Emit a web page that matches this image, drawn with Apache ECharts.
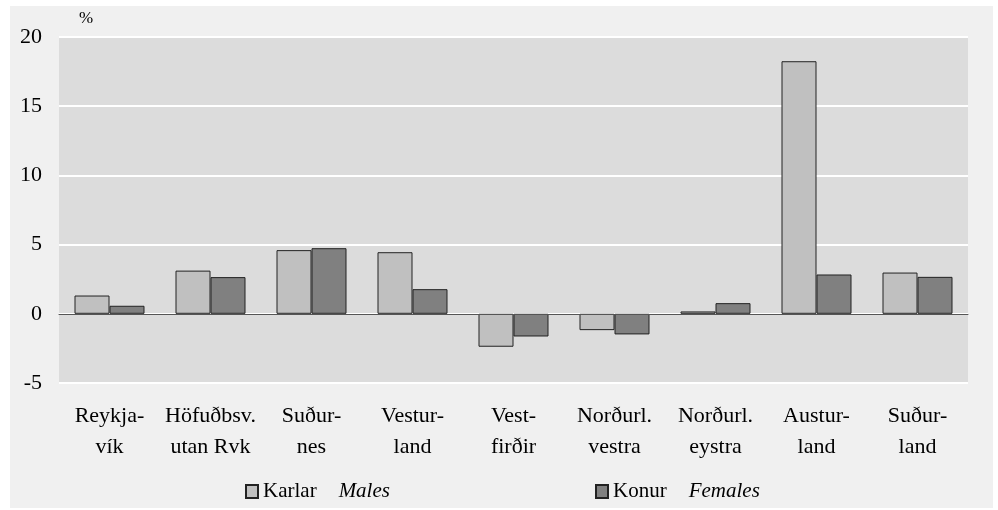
<!DOCTYPE html>
<html>
<head>
<meta charset="utf-8">
<script src="https://cdn.jsdelivr.net/npm/echarts@6/dist/echarts.min.js"></script>
<style>
html,body{margin:0;padding:0;background:#ffffff;}
#wrap{position:relative;width:998px;height:510px;}
#bg{position:absolute;left:10px;top:6px;width:983px;height:502px;background:#f0f0f0;}
#chart{position:absolute;left:0;top:0;width:998px;height:510px;}
</style>
</head>
<body>
<div id="wrap"><div id="bg"></div><div id="chart"></div></div>
<script>
const categories = ["Reykja-\nvík", "Höfuðbsv.\nutan Rvk", "Suður-\nnes", "Vestur-\nland", "Vest-\nfirðir", "Norðurl.\nvestra", "Norðurl.\neystra", "Austur-\nland", "Suður-\nland"];
const males = [1.32, 3.12, 4.6, 4.45, -2.38, -1.18, 0.17, 18.25, 2.98];
const females = [0.58, 2.65, 4.74, 1.78, -1.64, -1.49, 0.77, 2.84, 2.67];
const seriesNames = ["Karlar", "Konur"];
const seriesEnglish = ["Males", "Females"];
const yTicks = { min: -5, max: 20, step: 5 };

const FONT = '"Liberation Serif", "DejaVu Serif", serif';
const chart = echarts.init(document.getElementById('chart'), null, { renderer: 'canvas' });
const legendBase = {
  orient: 'horizontal', top: 476, itemWidth: 12, itemHeight: 13, itemGap: 0,
  icon: 'rect',
  textStyle: { fontFamily: FONT, fontSize: 21, color: '#000', padding: [0, 0, 0, 0], rich: { i: { fontFamily: FONT, fontSize: 21, fontStyle: 'italic', color: '#000', padding: [0, 0, 0, 22] } } },
  formatter: function (n) { const k = seriesNames.indexOf(n); return n + '{i|' + seriesEnglish[k] + '}'; }
};
chart.setOption({
  backgroundColor: 'transparent',
  animation: false,
  grid: { left: 59, right: 30, top: 37, bottom: 127, show: true, backgroundColor: '#dcdcdc', borderWidth: 0 },
  legend: [
    Object.assign({}, legendBase, { left: 240, data: [seriesNames[0]] }),
    Object.assign({}, legendBase, { left: 590, data: [seriesNames[1]] })
  ],
  xAxis: {
    type: 'category', data: categories,
    axisLine: { show: true, onZero: true, lineStyle: { color: '#555', width: 1 } },
    axisTick: { show: false },
    axisLabel: { interval: 0, margin: 18, fontFamily: FONT, fontSize: 22, color: '#000', lineHeight: 31, align: 'center' },
    z: 5
  },
  yAxis: {
    type: 'value', min: yTicks.min, max: yTicks.max, interval: yTicks.step,
    name: '%', nameLocation: 'end', nameGap: 10,
    nameTextStyle: { fontFamily: FONT, fontSize: 17, color: '#000', align: 'left', padding: [0, 0, 0, 20] },
    axisLine: { show: false }, axisTick: { show: false },
    axisLabel: { margin: 17, fontFamily: FONT, fontSize: 22, color: '#000' },
    splitLine: { show: true, lineStyle: { color: '#ffffff', width: 2 } }
  },
  series: [
    { name: seriesNames[0], type: 'bar', data: males, barWidth: 35, barGap: '0%',
      itemStyle: { color: '#c0c0c0', borderColor: '#222', borderWidth: 1 } },
    { name: seriesNames[1], type: 'bar', data: females, barWidth: 35, barGap: '0%',
      itemStyle: { color: '#808080', borderColor: '#222', borderWidth: 1 } }
  ]
});
</script>
</body>
</html>
